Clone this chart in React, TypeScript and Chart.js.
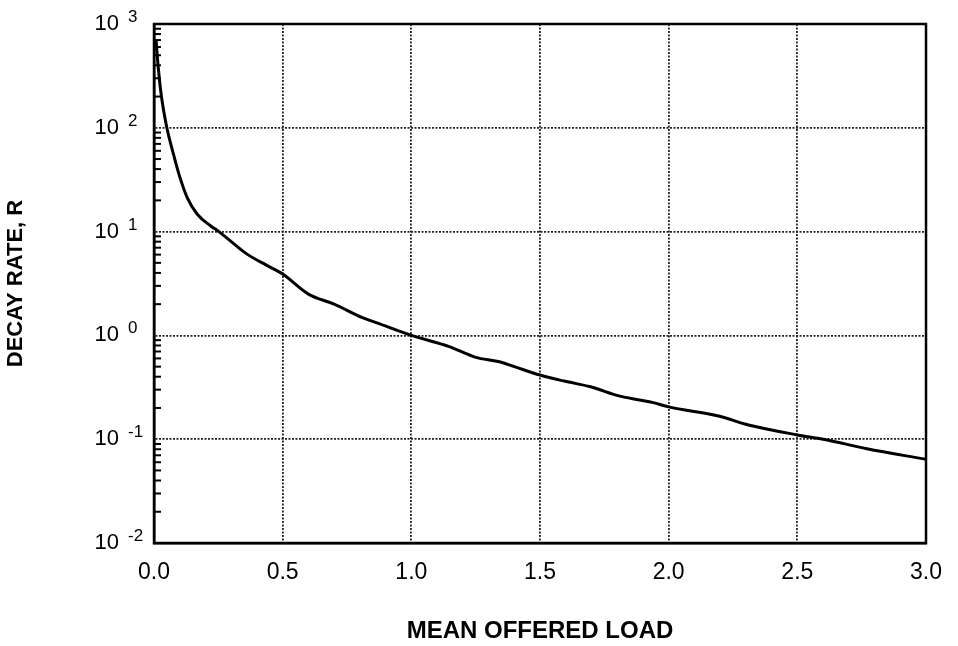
import React, { useEffect, useRef } from 'react';
import { Chart, registerables } from 'chart.js';

Chart.register(...registerables);

// ---- data ----
const loadX = [
  0.008, 0.015, 0.028, 0.05, 0.073, 0.098, 0.13, 0.169, 0.219, 0.252, 0.3, 0.36,
  0.44, 0.5, 0.6, 0.7, 0.81, 0.866, 1.0, 1.147, 1.25, 1.338, 1.4, 1.5, 1.594,
  1.696, 1.81, 1.887, 1.94, 2.0, 2.194, 2.31, 2.5, 2.6, 2.77, 3.0,
];
const decayR = [
  700, 420, 208, 100, 59, 35, 21, 14.6, 11.4, 10, 8.0, 6.1,
  4.7, 3.9, 2.5, 2.0, 1.48, 1.32, 1.0, 0.78, 0.615, 0.56, 0.5, 0.415, 0.363,
  0.32, 0.26, 0.239, 0.225, 0.205, 0.167, 0.137, 0.11, 0.1, 0.081, 0.064,
];
const xTickValues = [0, 0.5, 1.0, 1.5, 2.0, 2.5, 3.0];
const yDecades = [-2, -1, 0, 1, 2, 3];
const minorDigits = [2, 3, 4, 5, 6, 7, 8, 9];
const xTitle = 'MEAN OFFERED LOAD';
const yTitle = 'DECAY RATE, R';

const FONT = '"Liberation Sans", Arial, Helvetica, sans-serif';

const framePlugin = {
  id: 'frameAndLabels',
  afterDraw(chart: any) {
    const { ctx, chartArea: a, scales } = chart;
    const y = scales.y;
    ctx.save();
    ctx.strokeStyle = '#000';
    ctx.fillStyle = '#000';
    // minor inside ticks on left axis
    ctx.lineWidth = 2;
    for (const e of yDecades.slice(0, -1)) {
      for (const d of minorDigits) {
        const py = y.getPixelForValue(d * Math.pow(10, e));
        ctx.beginPath();
        ctx.moveTo(a.left, py);
        ctx.lineTo(a.left + 7, py);
        ctx.stroke();
      }
    }
    // frame
    ctx.lineWidth = 2.5;
    ctx.strokeRect(a.left, a.top, a.right - a.left, a.bottom - a.top);
    // y tick labels: 10 with superscript exponent
    for (const e of yDecades) {
      const py = y.getPixelForValue(Math.pow(10, e));
      ctx.font = `22px ${FONT}`;
      ctx.textAlign = 'right';
      ctx.textBaseline = 'middle';
      ctx.fillText('10', 119, py);
      ctx.font = `17px ${FONT}`;
      ctx.textAlign = 'left';
      ctx.textBaseline = 'alphabetic';
      ctx.fillText(String(e), 128, py - 2);
    }
    ctx.restore();
  },
};

export default function App() {
  const ref = useRef<HTMLCanvasElement | null>(null);

  useEffect(() => {
    if (!ref.current) return;
    const chart = new Chart(ref.current, {
      type: 'line',
      data: {
        datasets: [
          {
            label: 'Decay rate',
            data: loadX.map((x, i) => ({ x, y: decayR[i] })),
            borderColor: '#000',
            borderWidth: 3,
            pointRadius: 0,
            fill: false,
            cubicInterpolationMode: 'monotone',
          },
        ],
      },
      options: {
        animation: false,
        responsive: false,
        events: [],
        layout: { padding: { left: 0, right: 21, top: 24, bottom: 0 } },
        plugins: { legend: { display: false }, tooltip: { enabled: false } },
        scales: {
          x: {
            type: 'linear',
            min: 0,
            max: 3,
            afterBuildTicks: (s: any) => {
              s.ticks = xTickValues.map((v) => ({ value: v }));
            },
            afterFit: (s: any) => {
              s.height = 103;
            },
            ticks: {
              callback: (v: any) => Number(v).toFixed(1),
              font: { family: FONT, size: 23 },
              color: '#000',
              padding: 16,
              maxRotation: 0,
            },
            grid: { color: '#222', lineWidth: 1.8, drawTicks: false },
            border: { display: true, color: '#000', width: 2.5, dash: [2, 1.5] },
            title: {
              display: true,
              text: xTitle,
              color: '#000',
              font: { family: FONT, size: 24, weight: 'bold' },
              padding: { top: 0, bottom: 0 },
            },
          },
          y: {
            type: 'logarithmic',
            min: 0.01,
            max: 1000,
            afterBuildTicks: (s: any) => {
              s.ticks = yDecades.map((e) => ({ value: Math.pow(10, e), major: true }));
            },
            afterFit: (s: any) => {
              s.width = 154;
            },
            ticks: { display: false },
            grid: { color: '#222', lineWidth: 1.8, drawTicks: false },
            border: { display: true, color: '#000', width: 2.5, dash: [2, 1.5] },
            title: {
              display: true,
              text: yTitle,
              color: '#000',
              font: { family: FONT, size: 22, weight: 'bold' },
              padding: { top: 3, bottom: 0 },
            },
          },
        },
      },
      plugins: [framePlugin],
    } as any);
    return () => chart.destroy();
  }, []);

  return (
    <div style={{ position: 'fixed', left: 0, top: 0, width: 958, height: 646, background: '#fff' }}>
      <canvas ref={ref} width={958} height={646} style={{ width: 958, height: 646, display: 'block' }} />
    </div>
  );
}
